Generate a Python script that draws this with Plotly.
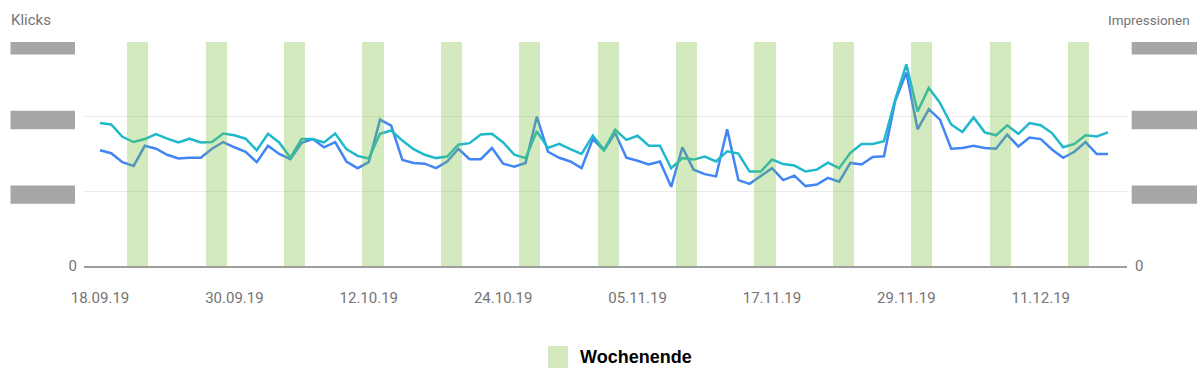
import pandas as pd
import plotly.graph_objects as go

# ---------------- data ----------------
START_DATE = "2019-09-18"
KLICKS = [155, 151, 139, 134, 161, 157, 149, 144, 145, 145, 157, 166, 159, 153, 139, 161, 150, 143,
          165, 170, 159, 166, 140, 131, 139, 196, 188, 142, 138, 137, 131, 140, 157, 143, 143, 158, 137,
          133, 138, 200, 153, 145, 140, 131, 170, 155, 178, 145, 141, 136, 140, 106, 159, 129, 123,
          120, 183, 115, 110, 121, 131, 115, 121, 107, 109, 118, 113, 138, 136, 146, 147, 221, 259,
          183, 210, 196, 157, 158, 161, 158, 157, 176, 160, 172, 170, 156, 145, 153, 166, 150, 150]
IMPRESSIONEN = [3830, 3790, 3460, 3320, 3400, 3530, 3410, 3310, 3410, 3310, 3320, 3550, 3500, 3410, 3100, 3540, 3310, 2900,
                3400, 3400, 3310, 3550, 3130, 2950, 2880, 3540, 3630, 3360, 3130, 2980, 2890, 2930, 3250, 3290, 3520, 3540, 3310,
                2980, 2890, 3610, 3160, 3270, 3130, 3000, 3490, 3110, 3650, 3380, 3490, 3220, 3220, 2620, 2890, 2850, 2930,
                2800, 3070, 3010, 2530, 2530, 2850, 2730, 2690, 2530, 2580, 2770, 2620, 3030, 3270, 3270, 3340, 4460, 5400,
                4140, 4770, 4370, 3790, 3590, 3980, 3580, 3500, 3770, 3540, 3830, 3770, 3560, 3180, 3270, 3500, 3470, 3580]
WEEKEND_SATURDAYS = ["2019-09-21", "2019-09-28", "2019-10-05", "2019-10-12", "2019-10-19", "2019-10-26",
                     "2019-11-02", "2019-11-09", "2019-11-16", "2019-11-23", "2019-11-30", "2019-12-07",
                     "2019-12-14"]
WEEKEND_FLAG = [1] * len(WEEKEND_SATURDAYS)
KLICKS_TICKS = [0, 100, 200, 300]
IMPR_TICKS = [0, 2000, 4000, 6000]
LEGEND_LABEL = "Wochenende"

dates = pd.date_range(START_DATE, periods=len(KLICKS), freq="D")
weekend_centers = pd.to_datetime(WEEKEND_SATURDAYS) + pd.Timedelta(hours=9)

BLUE = "#4285f4"
TEAL = "#1fb9cb"
GREEN = "rgba(118,190,58,0.33)"
AXIS_GREY = "#757575"
FONT = "Roboto"

fig = go.Figure()
fig.add_trace(go.Scatter(x=dates, y=KLICKS, mode="lines", name="Klicks",
                         line=dict(color=BLUE, width=2.5), yaxis="y"))
fig.add_trace(go.Scatter(x=dates, y=IMPRESSIONEN, mode="lines", name="Impressionen",
                         line=dict(color=TEAL, width=2.5), yaxis="y2"))
fig.add_trace(go.Bar(x=weekend_centers, y=WEEKEND_FLAG, name=LEGEND_LABEL,
                     width=1.9 * 86400000, marker=dict(color=GREEN, line=dict(width=0)),
                     yaxis="y3"))

x_start = pd.Timestamp(START_DATE) - pd.Timedelta(hours=34.3)
x_end = pd.Timestamp(START_DATE) + pd.Timedelta(days=91.7)

fig.update_layout(
    width=1200, height=381,
    margin=dict(l=84, r=73, t=42, b=115),
    paper_bgcolor="white", plot_bgcolor="white",
    showlegend=False,
    font=dict(family=FONT, size=15, color=AXIS_GREY),
    xaxis=dict(
        type="date", range=[x_start, x_end],
        tick0=START_DATE, dtick=12 * 86400000, tickformat="%d.%m.%y",
        showgrid=False, zeroline=False,
        showline=True, linecolor="#9e9e9e", linewidth=1.5,
        ticks="", ticklabelstandoff=17,
        tickfont=dict(family=FONT, size=15, color=AXIS_GREY),
    ),
    yaxis=dict(
        range=[0, 300], tickvals=KLICKS_TICKS, ticktext=["0", "", "", ""],
        showgrid=True, gridcolor="#ebebeb", gridwidth=1,
        zeroline=False, showline=False, ticks="", ticklabelstandoff=6,
        tickfont=dict(family=FONT, size=15, color=AXIS_GREY),
    ),
    yaxis2=dict(
        range=[0, 6000], tickvals=IMPR_TICKS, ticktext=["0", "", "", ""],
        overlaying="y", side="right", showgrid=False,
        zeroline=False, showline=False, ticks="", ticklabelstandoff=7,
        tickfont=dict(family=FONT, size=15, color=AXIS_GREY),
    ),
    yaxis3=dict(range=[0, 1], overlaying="y", visible=False),
    bargap=0,
)

# axis titles
fig.add_annotation(text="Klicks", xref="paper", yref="paper", x=0, y=1,
                   xanchor="left", yanchor="middle", xshift=-75, yshift=22,
                   showarrow=False, font=dict(family=FONT, size=15, color=AXIS_GREY))
fig.add_annotation(text="Impressionen", xref="paper", yref="paper", x=1, y=1,
                   xanchor="right", yanchor="middle", xshift=65, yshift=22,
                   showarrow=False, font=dict(family=FONT, size=13.5, color=AXIS_GREY))

# redaction blocks over hidden tick labels
BLOCK = "#a6a6a6"
for v in KLICKS_TICKS[1:]:
    fig.add_shape(type="rect", xref="paper", xsizemode="pixel", xanchor=0, x0=-73.5, x1=-9,
                  yref="y", ysizemode="pixel", yanchor=v, y0=-12.5, y1=5.8,
                  fillcolor=BLOCK, line=dict(width=0), layer="above")
for v in KLICKS_TICKS[1:]:
    fig.add_shape(type="rect", xref="paper", xsizemode="pixel", xanchor=1, x0=4.7, x1=70,
                  yref="y", ysizemode="pixel", yanchor=v, y0=-12.5, y1=5.8,
                  fillcolor=BLOCK, line=dict(width=0), layer="above")

# manual legend
fig.add_shape(type="rect", xref="paper", xsizemode="pixel", xanchor=0.5, x0=-57.5, x1=-37.5,
              yref="paper", ysizemode="pixel", yanchor=0, y0=-102, y1=-80,
              fillcolor="rgb(212,234,190)", line=dict(width=0))
fig.add_annotation(text="<b>" + LEGEND_LABEL + "</b>", xref="paper", yref="paper", x=0.5, y=0,
                   xanchor="left", yanchor="middle", xshift=-28, yshift=-91,
                   showarrow=False, font=dict(family="Liberation Sans", size=18, color="black"))

fig.write_html("out.html")
